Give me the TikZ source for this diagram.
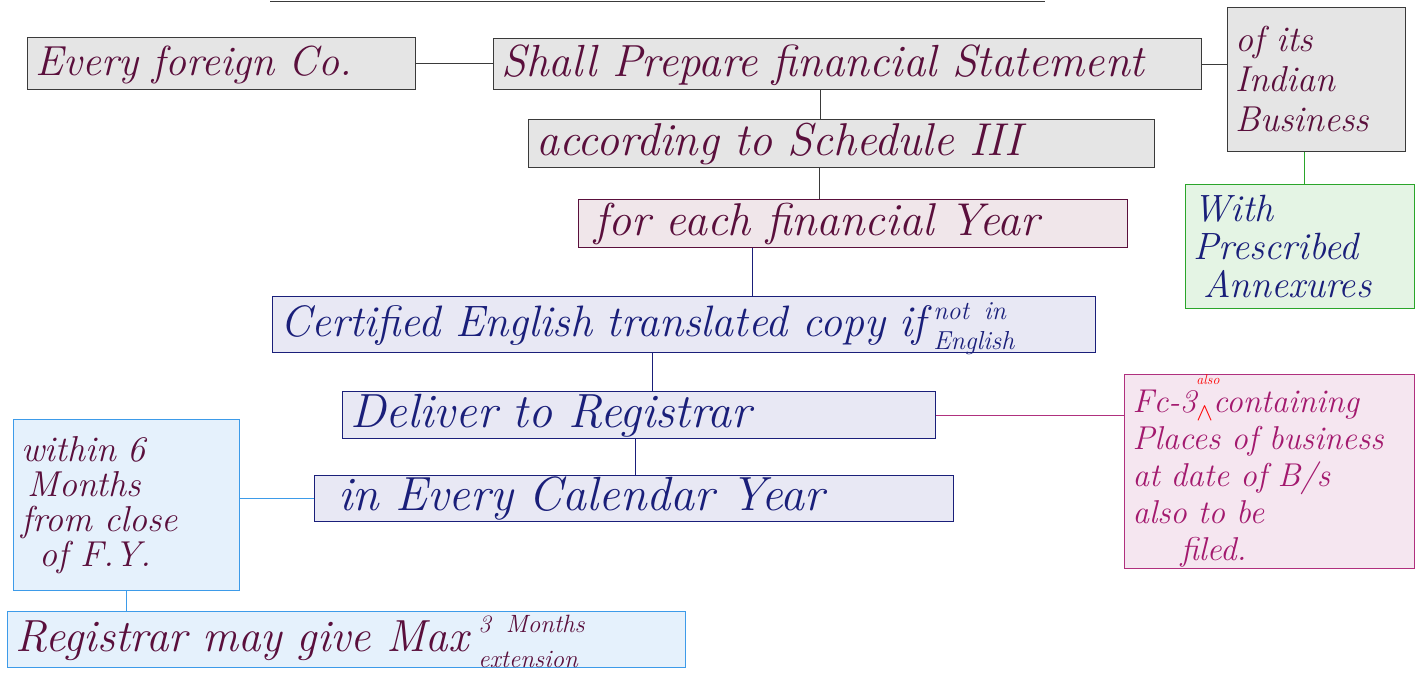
\documentclass[tikz,border=0pt]{standalone}
\usepackage{fontspec}
\usepackage{tikz}
\definecolor{inkred}{HTML}{5A0F3C}
\definecolor{inkblue}{HTML}{1A1F7A}
\definecolor{inkpink}{HTML}{A3196E}
\definecolor{boxgray}{HTML}{3A3A3A}
\definecolor{fillgray}{HTML}{E5E5E5}
\definecolor{fillrose}{HTML}{F0E6EA}
\definecolor{filllav}{HTML}{E8E8F4}
\definecolor{fillpink}{HTML}{F5E6F0}
\definecolor{fillsky}{HTML}{E5F1FC}
\definecolor{fillmint}{HTML}{E4F4E4}
\definecolor{edgeblue}{HTML}{3D9BE9}
\definecolor{edgegreen}{HTML}{2AA52A}
\definecolor{edgepink}{HTML}{B0307E}
\newcommand{\hwfont}[2]{\fontsize{#1}{#2}\selectfont\itshape}

\begin{document}
\begin{tikzpicture}[
  x=1pt, y=-1pt, line width=1pt,
  note/.style={draw=#1, anchor=north west, inner xsep=8pt, inner ysep=0pt,
    align=left},
  one/.style={text height=26pt, text depth=2pt},
  link/.style={draw=#1, line width=1pt},
]
\useasboundingbox (0,0) rectangle (1415,699);
% columns of the joins
\def\xa{820}\def\xb{819}\def\xc{752}\def\xd{652}\def\xe{635}
\def\xf{1304}
% cut-off edge at the top
\draw[boxgray] (270,1.5) -- (1045,1.5);
% boxes, main chain
\node[note=boxgray, fill=fillgray, one, text=inkred, text width=372pt,
  minimum height=52pt, font=\hwfont{42}{42}] (every) at (27,37)
  {Every foreign Co.};
\node[note=boxgray, fill=fillgray, one, text=inkred, text width=692pt,
  minimum height=51pt, font=\hwfont{45}{45}] (shall) at (493,38)
  {Shall Prepare financial Statement};
\node[note=boxgray, fill=fillgray, text=inkred, text width=162pt,
  minimum height=144pt, font=\hwfont{36}{40}] (its) at (1227,7)
  {of its\\Indian\\Business};
\node[note=edgegreen, fill=fillmint, text=inkblue, text width=213pt,
  minimum height=124pt, font=\hwfont{38}{38}] (annex) at (1185,184)
  {With\\Prescribed\\\hspace*{10pt}Annexures};
\node[note=boxgray, fill=fillgray, one, text=inkred, text width=610pt,
  minimum height=48pt, font=\hwfont{46}{46}] (sched) at (528,119)
  {according to Schedule III};
\node[note=inkred, fill=fillrose, one, text=inkred, text width=533pt,
  minimum height=48pt, font=\hwfont{46}{46}] (year) at (578,199)
  {\hspace*{8pt}for each financial Year};
\node[note=inkblue, fill=filllav, one, text=inkblue, text width=807pt,
  minimum height=56pt, font=\hwfont{44}{44}] (cert) at (272,296)
  {Certified English translated copy if\,\raisebox{-13pt}{\hwfont{26}{26}%
  \shortstack[l]{not in\\[9pt]English}}};
\node[note=inkblue, fill=filllav, one, text=inkblue, text width=577pt,
  minimum height=47pt, font=\hwfont{48}{48}] (deliver) at (342,391)
  {Deliver to Registrar};
\node[note=inkblue, fill=filllav, one, text=inkblue, text width=623pt,
  minimum height=46pt, font=\hwfont{48}{48}] (cal) at (314,475)
  {\hspace*{16pt}in Every Calendar Year};
% side notes
\node[note=edgepink, fill=fillpink, text=inkpink, text width=274pt,
  minimum height=194pt, font=\hwfont{33}{37}] (fc) at (1124,374)
  {Fc-3{\color{red}\makebox[0pt][l]{\raisebox{28pt}{\hwfont{14}{14}also}}%
  \raisebox{-8pt}{$\wedge$}}containing\\Places of business\\at date of B/s\\
  also to be\\\hspace*{48pt}filed.};
\node[note=edgeblue, fill=fillsky, text=inkred, text width=210pt,
  minimum height=171pt, font=\hwfont{36}{35}] (within) at (13,419)
  {within 6\\\hspace*{6pt}Months\\from close\\\hspace*{18pt}of F.Y.\\[8pt]};
\node[note=edgeblue, fill=fillsky, one, text=inkred, text width=662pt,
  minimum height=56pt, font=\hwfont{45}{45}] (reg) at (7,611)
  {Registrar may give Max\hspace{10pt}\raisebox{-16pt}{\hwfont{25}{25}%
  \shortstack[l]{3 Months\\[15pt]extension}}};
% joins
\draw[link=boxgray] (every.east) -- (every.east -| shall.west);
\draw[link=boxgray] (shall.east) -- (shall.east -| its.west);
\draw[link=boxgray] (\xa,0 |- shall.south) -- (\xa,0 |- sched.north);
\draw[link=boxgray] (\xb,0 |- sched.south) -- (\xb,0 |- year.north);
\draw[link=inkblue] (\xc,0 |- year.south) -- (\xc,0 |- cert.north);
\draw[link=inkblue] (\xd,0 |- cert.south) -- (\xd,0 |- deliver.north);
\draw[link=inkblue] (\xe,0 |- deliver.south) -- (\xe,0 |- cal.north);
\draw[link=edgegreen] (\xf,0 |- its.south) -- (\xf,0 |- annex.north);
\draw[link=edgepink] (deliver.east) -- (deliver.east -| fc.west);
\draw[link=edgeblue] (cal.west) -- (cal.west -| within.east);
\draw[link=edgeblue] (within.south) -- (within.south |- reg.north);
\end{tikzpicture}
\end{document}
